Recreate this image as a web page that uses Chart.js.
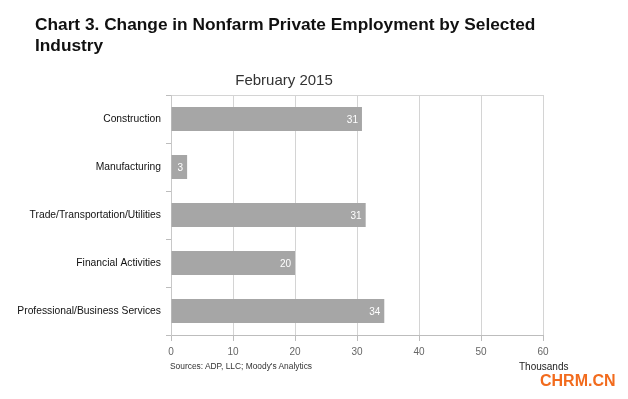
<!DOCTYPE html>
<html>
<head>
<meta charset="utf-8">
<script src="https://cdn.jsdelivr.net/npm/chart.js@4/dist/chart.umd.min.js"></script>
<style>
  body { margin: 0; background: #fff; font-family: "Liberation Sans", Arial, sans-serif; }
  #wrap { position: relative; width: 628px; height: 399px; overflow: hidden; }
  canvas { position: absolute; left: 0; top: 0; }
  .txt { position: absolute; white-space: nowrap; }
  #heading { left: 35px; top: 14px; font-size: 17.3px; font-weight: bold; color: #111; line-height: 21px; }
  #sub { left: 0; width: 568px; top: 71px; text-align: center; font-size: 15px; color: #333; }
  #src { left: 170px; top: 361px; font-size: 8.4px; color: #333; }
  #thou { left: 519px; top: 361px; font-size: 10px; color: #222; }
  #mark { left: 540px; top: 372px; font-size: 16px; font-weight: bold; color: #f26b1d; }
</style>
</head>
<body>
<div id="wrap">
  <canvas id="c" width="628" height="399"></canvas>
  <div class="txt" id="heading">Chart 3. Change in Nonfarm Private Employment by Selected<br>Industry</div>
  <div class="txt" id="sub">February 2015</div>
  <div class="txt" id="src">Sources: ADP, LLC; Moody's Analytics</div>
  <div class="txt" id="thou">Thousands</div>
  <div class="txt" id="mark">CHRM.CN</div>
</div>
<script>
const industries = ['Construction', 'Manufacturing', 'Trade/Transportation/Utilities', 'Financial Activities', 'Professional/Business Services'];
const change = [30.8, 2.6, 31.4, 20, 34.4];
const shownLabels = ['31', '3', '31', '20', '34'];
const xTicks = [0, 10, 20, 30, 40, 50, 60];

// white value labels inside the bar ends
const barLabels = {
  id: 'barLabels',
  afterDatasetsDraw(chart) {
    const ctx = chart.ctx;
    const meta = chart.getDatasetMeta(0);
    ctx.save();
    ctx.font = '10px "Liberation Sans", Arial, sans-serif';
    ctx.fillStyle = '#fff';
    ctx.textAlign = 'right';
    ctx.textBaseline = 'middle';
    meta.data.forEach((bar, i) => {
      ctx.fillText(shownLabels[i], bar.x - 4, bar.y + 1);
    });
    ctx.restore();
  }
};

new Chart(document.getElementById('c'), {
  type: 'bar',
  data: {
    labels: industries,
    datasets: [{
      data: change,
      backgroundColor: '#a6a6a6',
      borderWidth: 0,
      categoryPercentage: 0.5,
      barPercentage: 1
    }]
  },
  options: {
    indexAxis: 'y',
    responsive: false,
    animation: false,
    layout: { padding: { left: 0, top: 95, right: 85, bottom: 0 } },
    plugins: { legend: { display: false }, tooltip: { enabled: false } },
    scales: {
      x: {
        min: 0, max: 60,
        afterFit: s => { s.height = 64; },
        afterBuildTicks: s => { s.ticks = xTicks.map(v => ({ value: v })); },
        border: { color: '#bdbdbd' },
        grid: { color: '#d4d4d4', tickColor: '#bdbdbd', tickLength: 6 },
        ticks: { color: '#666', padding: 5, font: { size: 10, family: '"Liberation Sans", Arial, sans-serif' } }
      },
      y: {
        afterFit: s => { s.width = 171; },
        border: { color: '#c8c8c8' },
        grid: {
          offset: true,
          color: c => c.index === 0 ? '#d4d4d4' : 'transparent',
          tickColor: '#bdbdbd',
          tickLength: 5
        },
        ticks: { color: '#111', padding: 5, font: { size: 10.3, family: '"Liberation Sans", Arial, sans-serif' } }
      }
    }
  },
  plugins: [barLabels]
});
</script>
</body>
</html>
